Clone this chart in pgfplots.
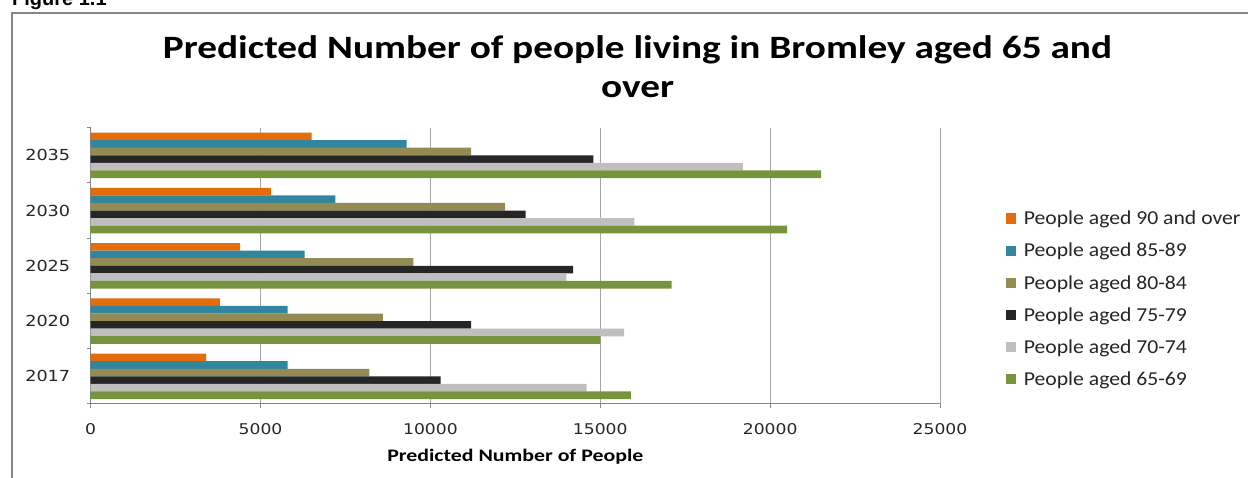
\documentclass[border=0pt]{standalone}
\usepackage{fontspec}
\usepackage{pgfplots}
\pgfplotsset{compat=1.18}
\setmainfont{Carlito}
\newfontfamily\titlefont[FakeStretch=1.205]{Carlito}
\newfontfamily\labfont[FakeStretch=1.24]{Carlito}
\newfontfamily\legfont[FakeStretch=1.1]{Carlito}
\newfontfamily\tickfont[FakeStretch=1.16]{DejaVu Sans}
\newfontfamily\figfont{Liberation Sans}
\definecolor{c90}{HTML}{E46C0A}
\definecolor{c85}{HTML}{31859C}
\definecolor{c80}{HTML}{948A54}
\definecolor{c75}{HTML}{262626}
\definecolor{c70}{HTML}{BFBFBF}
\definecolor{c65}{HTML}{77933C}
\definecolor{gridc}{HTML}{A6A6A6}
\definecolor{axc}{HTML}{868686}
\begin{document}
\begin{tikzpicture}[x=1pt,y=1pt]
\useasboundingbox (0,0) rectangle (1248,478);
\clip (0,0) rectangle (1248,478);
\draw[line width=2pt, color=axc] (11.5,-5) -- (11.5,465.3) -- (1260,465.3);
\node[anchor=base west, inner sep=0, font=\figfont\bfseries\fontsize{20}{24}\selectfont] at (12,472) {Figure 1.1};
\node[align=center, inner sep=0, font=\titlefont\bfseries\fontsize{32.6}{39}\selectfont] at (637.5,411.5) {Predicted Number of people living in Bromley aged 65 and\\over};
\begin{axis}[
  at={(90.7pt,74pt)}, anchor=south west,
  scale only axis, width=849.3pt, height=276.3pt,
  xbar, bar width=7.6pt,
  xmin=0, xmax=25000, ymin=-0.5, ymax=4.5,
  scaled x ticks=false,
  axis x line*=bottom, axis y line*=left,
  axis line style={draw=axc, line width=1pt},
  xtick={0,5000,10000,15000,20000,25000},
  xticklabels={0,5000,10000,15000,20000,25000},
  ytick={0,1,2,3,4},
  yticklabels={2017,2020,2025,2030,2035},
  tick align=outside, major tick length=4pt,
  xtick style={draw=axc, line width=1pt},
  ytick style={draw=none},
  extra y ticks={-0.5,0.5,1.5,2.5,3.5,4.5},
  extra y tick labels={},
  extra y tick style={ytick style={draw=axc, line width=1pt}},
  xmajorgrids, ymajorgrids=false,
  major grid style={draw=gridc, line width=1pt},
  xticklabel style={font=\tickfont\fontsize{14.8}{17}\selectfont, text=black!85, yshift=-12pt},
  yticklabel style={font=\tickfont\fontsize{15.2}{17}\selectfont, text=black!85, anchor=east, xshift=-13pt},
  xlabel={Predicted Number of People},
  xlabel style={font=\labfont\bfseries\fontsize{17.6}{20}\selectfont, at={(axis description cs:0.5,0)}, anchor=center, yshift=-53pt},
  legend style={draw=none, fill=none, at={(1.0738,0.7057)}, anchor=north west,
    font=\legfont\fontsize{19.7}{22}\selectfont, row sep=16.9pt,
    nodes={inner sep=0pt, text=black!85}},
  legend cell align=left,
  legend image code/.code={\path[#1, draw=none] (0pt,-5.3pt) rectangle (10.6pt,5.3pt);},
]
\addplot[fill=c90, draw=none, bar shift=18.9pt] coordinates {(3400,0) (3800,1) (4400,2) (5300,3) (6500,4)};
\addlegendentry{\hspace{7.4pt}People aged 90 and over}
\addplot[fill=c85, draw=none, bar shift=11.35pt] coordinates {(5800,0) (5800,1) (6300,2) (7200,3) (9300,4)};
\addlegendentry{\hspace{7.4pt}People aged 85-89}
\addplot[fill=c80, draw=none, bar shift=3.8pt] coordinates {(8200,0) (8600,1) (9500,2) (12200,3) (11200,4)};
\addlegendentry{\hspace{7.4pt}People aged 80-84}
\addplot[fill=c75, draw=none, bar shift=-3.8pt] coordinates {(10300,0) (11200,1) (14200,2) (12800,3) (14800,4)};
\addlegendentry{\hspace{7.4pt}People aged 75-79}
\addplot[fill=c70, draw=none, bar shift=-11.35pt] coordinates {(14600,0) (15700,1) (14000,2) (16000,3) (19200,4)};
\addlegendentry{\hspace{7.4pt}People aged 70-74}
\addplot[fill=c65, draw=none, bar shift=-18.9pt] coordinates {(15900,0) (15000,1) (17100,2) (20500,3) (21500,4)};
\addlegendentry{\hspace{7.4pt}People aged 65-69}
\end{axis}
\end{tikzpicture}
\end{document}
